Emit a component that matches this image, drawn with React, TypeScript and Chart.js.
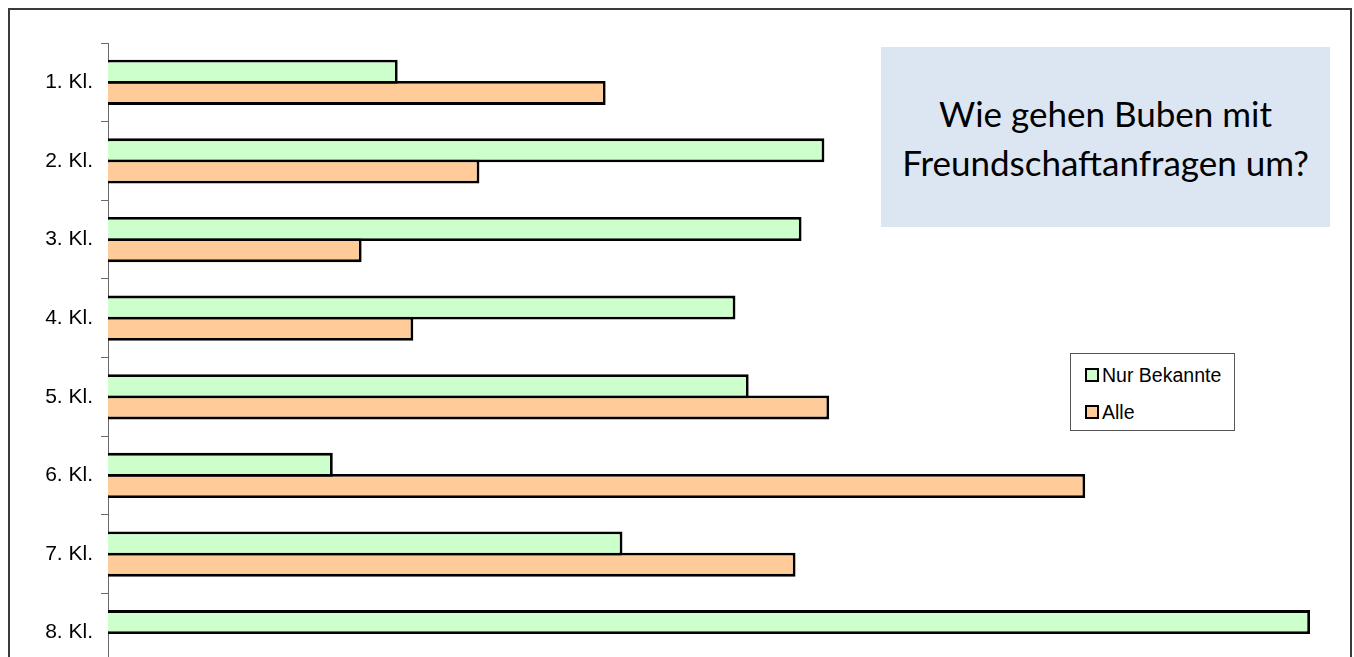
import React, { useEffect, useRef } from "react";
import { Chart, registerables } from "chart.js";

Chart.register(...registerables);

const categories = ["1. Kl.", "2. Kl.", "3. Kl.", "4. Kl.", "5. Kl.", "6. Kl.", "7. Kl.", "8. Kl."];
const seriesNames = ["Nur Bekannte", "Alle"];
const nurBekannte = [24.1, 59.6, 57.7, 52.2, 53.3, 18.7, 42.8, 100];
const alle = [41.4, 30.9, 21.1, 25.4, 60.0, 81.3, 57.2, 0];
const seriesColors = ["#CCFFCC", "#FFCC99"];
const titleLines = ["Wie gehen Buben mit", "Freundschaftanfragen um?"];
const xMin = 0;
const xMax = 100;

export default function App() {
  const canvasRef = useRef<HTMLCanvasElement | null>(null);

  useEffect(() => {
    const canvas = canvasRef.current;
    if (!canvas) return;
    const chart = new Chart(canvas, {
      type: "bar",
      data: {
        labels: categories,
        datasets: [
          {
            label: seriesNames[0],
            data: nurBekannte,
            backgroundColor: seriesColors[0],
            borderColor: "#000000",
            borderWidth: 2.8,
            borderSkipped: "start",
            categoryPercentage: 0.54,
            barPercentage: 1.13,
          },
          {
            label: seriesNames[1],
            data: alle,
            backgroundColor: seriesColors[1],
            borderColor: "#000000",
            borderWidth: 2.8,
            borderSkipped: "start",
            categoryPercentage: 0.54,
            barPercentage: 1.13,
          },
        ],
      },
      options: {
        indexAxis: "y",
        animation: false,
        responsive: true,
        maintainAspectRatio: false,
        layout: { padding: { left: 0, right: 40, top: 33, bottom: 38 } },
        plugins: {
          legend: { display: false },
          title: { display: false },
          tooltip: { enabled: false },
        },
        scales: {
          x: {
            display: false,
            min: xMin,
            max: xMax,
          },
          y: {
            offset: true,
            afterFit: (scale: any) => {
              scale.width = 98;
            },
            grid: {
              display: true,
              offset: true,
              drawOnChartArea: false,
              drawTicks: true,
              tickLength: 7,
              color: "#6b6b6b",
              lineWidth: 1,
            },
            border: { display: true, color: "#6b6b6b", width: 1 },
            ticks: {
              color: "#000000",
              padding: 8,
              font: { family: "'Liberation Sans', Arial, sans-serif", size: 21 },
            },
          },
        },
      },
    });
    return () => chart.destroy();
  }, []);

  return (
    <div
      style={{
        position: "fixed",
        left: 8,
        top: 8,
        width: 1344,
        height: 649,
        overflow: "hidden",
      }}
    >
      <div
        style={{
          position: "absolute",
          left: 0,
          top: 0,
          width: 1340,
          height: 720,
          border: "2px solid #3a3a3a",
          background: "#ffffff",
        }}
      >
        <div style={{ position: "absolute", left: 0, top: 0, width: 1340, height: 700 }}>
          <canvas ref={canvasRef} />
        </div>
        <div
          style={{
            position: "absolute",
            left: 871,
            top: 37,
            width: 449,
            height: 180,
            background: "#DCE6F2",
            display: "flex",
            flexDirection: "column",
            alignItems: "center",
            justifyContent: "center",
            fontFamily: "Lato, 'Open Sans', sans-serif",
            fontSize: 35,
            lineHeight: "49px",
            color: "#000000",
            paddingTop: 2,
            boxSizing: "border-box",
          }}
        >
          {titleLines.map((t) => (
            <div key={t}>{t}</div>
          ))}
        </div>
        <div
          style={{
            position: "absolute",
            left: 1060,
            top: 343,
            width: 165,
            height: 78,
            border: "1px solid #555555",
            boxSizing: "border-box",
            background: "#ffffff",
            fontFamily: "'Liberation Sans', Arial, sans-serif",
            fontSize: 19.5,
            color: "#000000",
          }}
        >
          {seriesNames.map((name, i) => (
            <div
              key={name}
              style={{
                position: "absolute",
                left: 14,
                top: 13 + i * 37,
                height: 16,
                display: "flex",
                alignItems: "center",
                whiteSpace: "nowrap",
              }}
            >
              <span
                style={{
                  display: "inline-block",
                  width: 10,
                  height: 10,
                  border: "2px solid #000000",
                  background: seriesColors[i],
                  marginRight: 3,
                }}
              />
              <span>{name}</span>
            </div>
          ))}
        </div>
      </div>
    </div>
  );
}
